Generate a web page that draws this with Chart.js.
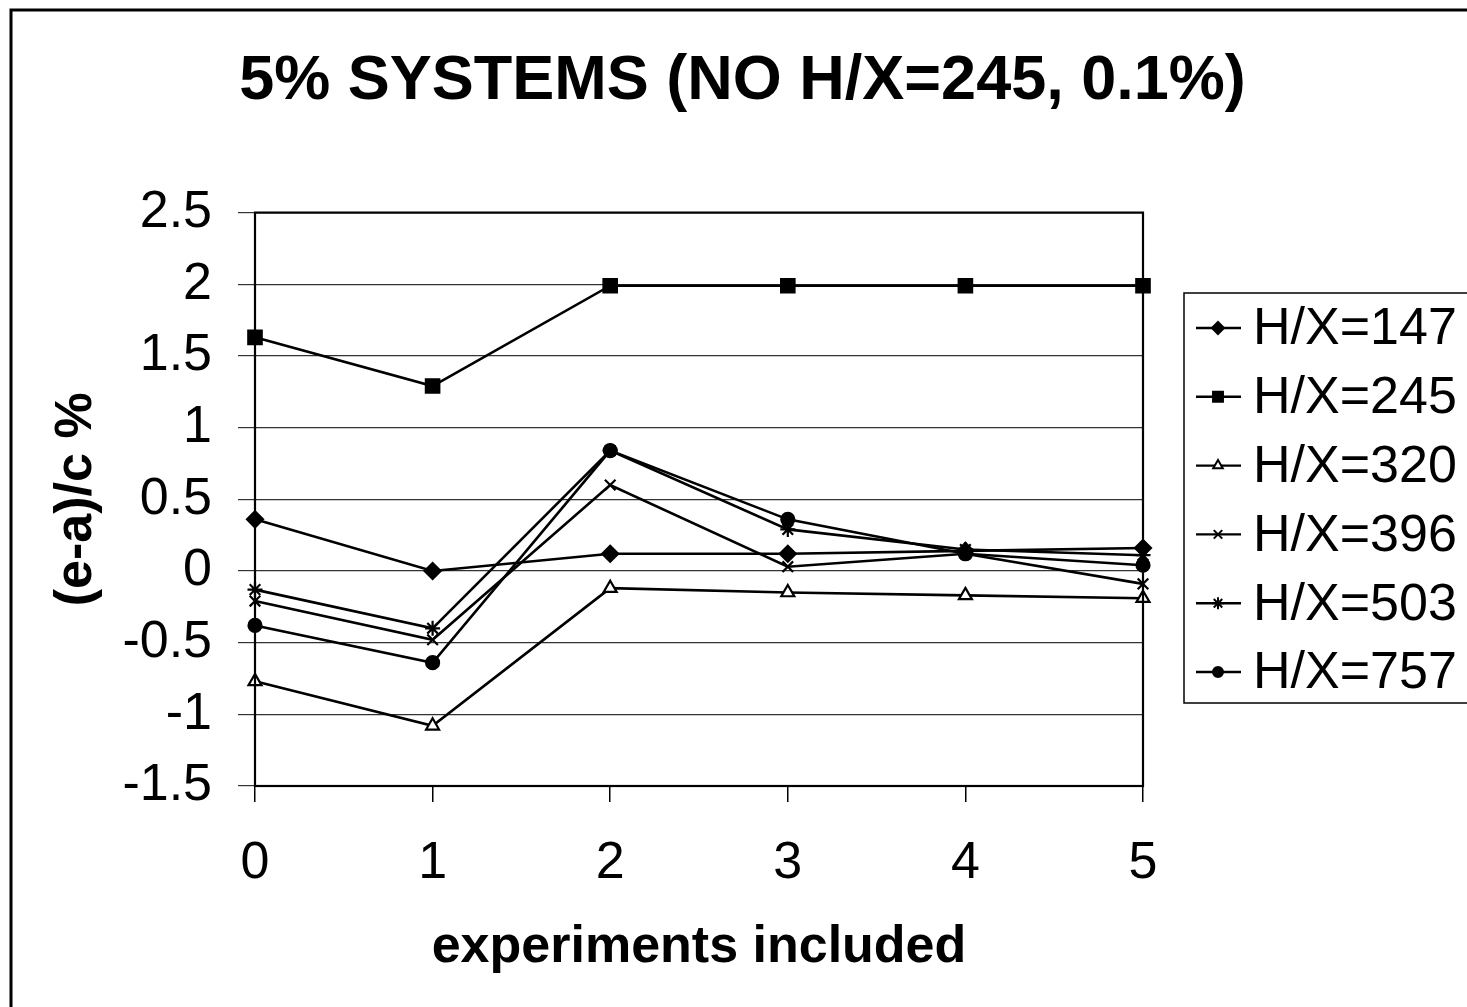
<!DOCTYPE html>
<html lang="en">
<head>
<meta charset="UTF-8">
<title>5% Systems (no H/X=245, 0.1%)</title>
<script src="https://cdn.jsdelivr.net/npm/chart.js"></script>
<style>
body {
margin: 0;
background-color: #ffffff;
}
.chart-wrap {
position: relative;
width: 1467px;
height: 1007px;
}
</style>
</head>
<body>
<div class="chart-wrap">
<canvas id="errChart" width="1467" height="1007"></canvas>
</div>

<script>
// Number of experiments included in the fit
const experiments = ['0', '1', '2', '3', '4', '5'];

// (e-a)/c in percent for each H/X ratio
const hx147 = [0.36, 0.00, 0.12, 0.12, 0.14, 0.16];
const hx245 = [1.63, 1.29, 1.99, 1.99, 1.99, 1.99];
const hx320 = [-0.77, -1.08, -0.12, -0.15, -0.17, -0.19];
const hx396 = [-0.21, -0.48, 0.60, 0.03, 0.12, -0.09];
const hx503 = [-0.13, -0.40, 0.84, 0.29, 0.15, 0.11];
const hx757 = [-0.38, -0.64, 0.84, 0.36, 0.12, 0.04];

const seriesNames = ['H/X=147', 'H/X=245', 'H/X=320', 'H/X=396', 'H/X=503', 'H/X=757'];

// y axis tick labels, bottom to top
const yTickLabels = ['-1.5', '-1', '-0.5', '0', '0.5', '1', '1.5', '2', '2.5'];

const FONT = "Arial, 'Liberation Sans', sans-serif";

// marker look per series (radius on the plot, radius in the legend)
const markers = [
{ pointStyle: 'rectRot', radius: 8, legendRadius: 6, fill: '#000' },
{ pointStyle: 'rect', radius: 9.5, legendRadius: 7, fill: '#000' },
{ pointStyle: 'triangle', radius: 7.5, legendRadius: 5.5, fill: '#fff' },
{ pointStyle: 'crossRot', radius: 7.5, legendRadius: 6, fill: '#000' },
{ pointStyle: 'star', radius: 7.5, legendRadius: 6, fill: '#000' },
{ pointStyle: 'circle', radius: 6.5, legendRadius: 5, fill: '#000' }
];

const allSeries = [hx147, hx245, hx320, hx396, hx503, hx757];

const datasets = allSeries.map((values, i) => ({
label: seriesNames[i],
data: values,
borderColor: '#000',
borderWidth: 2.6,
backgroundColor: markers[i].fill,
pointStyle: markers[i].pointStyle,
pointRadius: markers[i].radius,
pointBorderColor: '#000',
pointBackgroundColor: markers[i].fill,
pointBorderWidth: 2.2,
legendRadius: markers[i].legendRadius,
tension: 0,
fill: false
}));

// outer frame and the box round the plot area
const framePlugin = {
id: 'frame',
beforeDraw(chart) {
const ctx = chart.ctx;
ctx.save();
ctx.fillStyle = '#fff';
ctx.fillRect(0, 0, chart.width, chart.height);
ctx.strokeStyle = '#000';
ctx.lineWidth = 3;
ctx.strokeRect(11, 10, chart.width + 20, chart.height + 20);
ctx.restore();
},
afterDatasetsDraw(chart) {
const a = chart.chartArea;
const ctx = chart.ctx;
ctx.save();
ctx.strokeStyle = '#000';
ctx.lineWidth = 2.2;
ctx.strokeRect(a.left, a.top, a.right - a.left, a.bottom - a.top);
ctx.restore();
}
};

// legend with a short line and marker for each series, boxed on the right
const sideLegend = {
id: 'sideLegend',
afterDraw(chart) {
const ctx = chart.ctx;
const boxX = 1184, boxY = 293, boxH = 410;
const rowH = 68.8, firstRow = 328;
ctx.save();
ctx.strokeStyle = '#000';
ctx.lineWidth = 1.5;
ctx.strokeRect(boxX, boxY, 400, boxH);
ctx.font = '52px ' + FONT;
ctx.textBaseline = 'middle';
ctx.textAlign = 'left';
chart.data.datasets.forEach((ds, i) => {
const y = firstRow + i * rowH;
ctx.strokeStyle = '#000';
ctx.lineWidth = 2.4;
ctx.beginPath();
ctx.moveTo(1196, y);
ctx.lineTo(1241, y);
ctx.stroke();
ctx.fillStyle = ds.pointBackgroundColor;
ctx.lineWidth = 2;
Chart.helpers.drawPoint(ctx, {
pointStyle: ds.pointStyle,
radius: ds.legendRadius,
borderWidth: 2,
rotation: 0
}, 1218, y);
ctx.fillStyle = '#000';
ctx.fillText(ds.label, 1253, y + 2);
});
ctx.restore();
}
};

const ctx = document.getElementById('errChart').getContext('2d');

new Chart(ctx, {
type: 'line',
data: {
labels: experiments,
datasets: datasets
},
options: {
responsive: false,
animation: false,
layout: { padding: { left: 18, right: 0, top: 0, bottom: 0 } },
plugins: {
legend: { display: false },
tooltip: { enabled: false },
title: {
display: true,
text: '5% SYSTEMS (NO H/X=245, 0.1%)',
color: '#000',
font: { family: FONT, size: 63, weight: 'bold' },
padding: { top: 44, bottom: 93 }
}
},
scales: {
x: {
type: 'category',
offset: false,
grid: {
drawOnChartArea: false,
drawTicks: true,
tickLength: 16,
color: '#000',
lineWidth: 1.5
},
border: { display: false },
ticks: {
color: '#000',
padding: 30,
font: { family: FONT, size: 52 },
maxRotation: 0
},
title: {
display: true,
text: 'experiments included',
color: '#000',
font: { family: FONT, size: 52, weight: 'bold' },
padding: { top: 0, bottom: 28 }
},
afterFit(scale) { scale.height = 221; }
},
y: {
type: 'linear',
min: -1.5,
max: 2.5,
grid: {
color: '#333',
lineWidth: 1.2,
tickLength: 17
},
border: { display: false },
ticks: {
stepSize: 0.5,
color: '#000',
padding: 26,
font: { family: FONT, size: 52 },
callback: function(value) {
const idx = Math.round((value + 1.5) / 0.5);
return yTickLabels[idx];
}
},
title: {
display: true,
text: '(e-a)/c %',
color: '#000',
font: { family: FONT, size: 52, weight: 'bold' },
padding: { top: 27, bottom: 0 }
},
afterFit(scale) { scale.width = 237; }
},
// empty axis that keeps room free on the right for the legend box
spacer: {
type: 'linear',
position: 'right',
grid: { display: false },
border: { display: false },
ticks: { display: false },
afterFit(scale) { scale.width = 1467 - 1143; }
}
}
},
plugins: [framePlugin, sideLegend]
});
</script>
</body>
</html>
